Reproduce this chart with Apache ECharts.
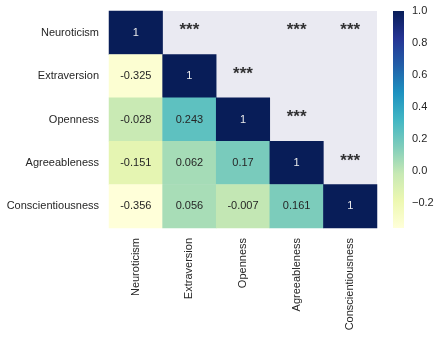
<!DOCTYPE html>
<html>
<head>
<meta charset="utf-8">
<script src="https://cdn.jsdelivr.net/npm/echarts@6/dist/echarts.min.js"></script>
<style>html,body{margin:0;padding:0;background:#fff}#c{width:442px;height:337px}</style>
</head>
<body>
<div id="c"></div>
<script>
var traits = ['Neuroticism', 'Extraversion', 'Openness', 'Agreeableness', 'Conscientiousness'];
// lower triangle correlations, row by row
var rowNeuroticism = [1];
var rowExtraversion = [-0.325, 1];
var rowOpenness = [-0.028, 0.243, 1];
var rowAgreeableness = [-0.151, 0.062, 0.17, 1];
var rowConscientiousness = [-0.356, 0.056, -0.007, 0.161, 1];
// significance markers in the upper triangle: [row, col]
var sigCells = [[0, 1], [0, 3], [0, 4], [1, 2], [2, 3], [3, 4]];
var sigText = '***';
var colorbarTicks = [-0.2, 0.0, 0.2, 0.4, 0.6, 0.8, 1.0];
var vmin = -0.356, vmax = 1;

var rows = [rowNeuroticism, rowExtraversion, rowOpenness, rowAgreeableness, rowConscientiousness];
var heatData = [];
rows.forEach(function (r, i) {
  r.forEach(function (v, j) { heatData.push([j, i, v]); });
});
var starData = sigCells.map(function (c) { return [c[1], c[0]]; });

var FONT = '"Liberation Sans", Arial, sans-serif';
var TXT = '#262626';
var ylgnbu = ['#ffffd9', '#edf8b1', '#c7e9b4', '#7fcdbb', '#41b6c4', '#1d91c0', '#225ea8', '#253494', '#081d58'];

var chart = echarts.init(document.getElementById('c'), null, {renderer: 'canvas'});
chart.setOption({
  animation: false,
  backgroundColor: '#fff',
  textStyle: {fontFamily: FONT},
  grid: [
    {left: 109, top: 11, width: 268, height: 217, show: true, backgroundColor: '#eaeaf2', borderWidth: 0},
    {left: 393, top: 11, width: 11, height: 217, show: false}
  ],
  xAxis: [
    {type: 'category', gridIndex: 0, data: traits, position: 'bottom',
     axisLine: {show: false}, axisTick: {show: false}, splitLine: {show: false},
     axisLabel: {rotate: 90, margin: 10, color: TXT, fontSize: 11, fontFamily: FONT, interval: 0}},
    {type: 'value', gridIndex: 1, show: false, min: 0, max: 1}
  ],
  yAxis: [
    {type: 'category', gridIndex: 0, data: traits, inverse: true,
     axisLine: {show: false}, axisTick: {show: false}, splitLine: {show: false},
     axisLabel: {margin: 10, color: TXT, fontSize: 11, fontFamily: FONT}},
    {type: 'value', gridIndex: 1, min: vmin, max: vmax, position: 'right',
     axisLine: {show: false}, splitLine: {show: false},
     axisTick: {show: true, length: 4, customValues: colorbarTicks, lineStyle: {color: TXT, width: 1}},
     axisLabel: {show: true, margin: 8, color: TXT, fontSize: 11, fontFamily: FONT, customValues: colorbarTicks,
       formatter: function (v) { var s = Math.abs(v).toFixed(1); return (v < -1e-9 ? '\u2212' : '') + s; }}}
  ],
  visualMap: {
    type: 'continuous', min: vmin, max: vmax, seriesIndex: 0, show: false,
    inRange: {color: ylgnbu}
  },
  series: [
    {type: 'heatmap', xAxisIndex: 0, yAxisIndex: 0,
     data: heatData.map(function (d) {
       return {value: d, label: {color: d[2] > 0.6 ? '#ebebeb' : TXT}};
     }),
     label: {show: true, fontSize: 11, fontFamily: FONT,
       formatter: function (p) { return String(p.value[2]); }},
     itemStyle: {borderWidth: 0},
     emphasis: {disabled: true}},
    {type: 'scatter', xAxisIndex: 0, yAxisIndex: 0, data: starData, symbolSize: 0,
     label: {show: true, position: 'inside', offset: [0, -2], formatter: sigText, color: '#000', fontSize: 17, fontWeight: 'bold', fontFamily: FONT},
     silent: true},
    {type: 'custom', xAxisIndex: 1, yAxisIndex: 1, silent: true,
     data: [[0, vmin, 1, vmax]],
     renderItem: function (params, api) {
       var p0 = api.coord([api.value(0), api.value(1)]);
       var p1 = api.coord([api.value(2), api.value(3)]);
       var stops = ylgnbu.map(function (c, i) { return {offset: i / (ylgnbu.length - 1), color: c}; });
       return {
         type: 'rect',
         shape: {x: p0[0], y: p1[1], width: p1[0] - p0[0], height: p0[1] - p1[1]},
         style: {fill: new echarts.graphic.LinearGradient(0, 1, 0, 0, stops)}
       };
     }}
  ]
});
</script>
</body>
</html>
